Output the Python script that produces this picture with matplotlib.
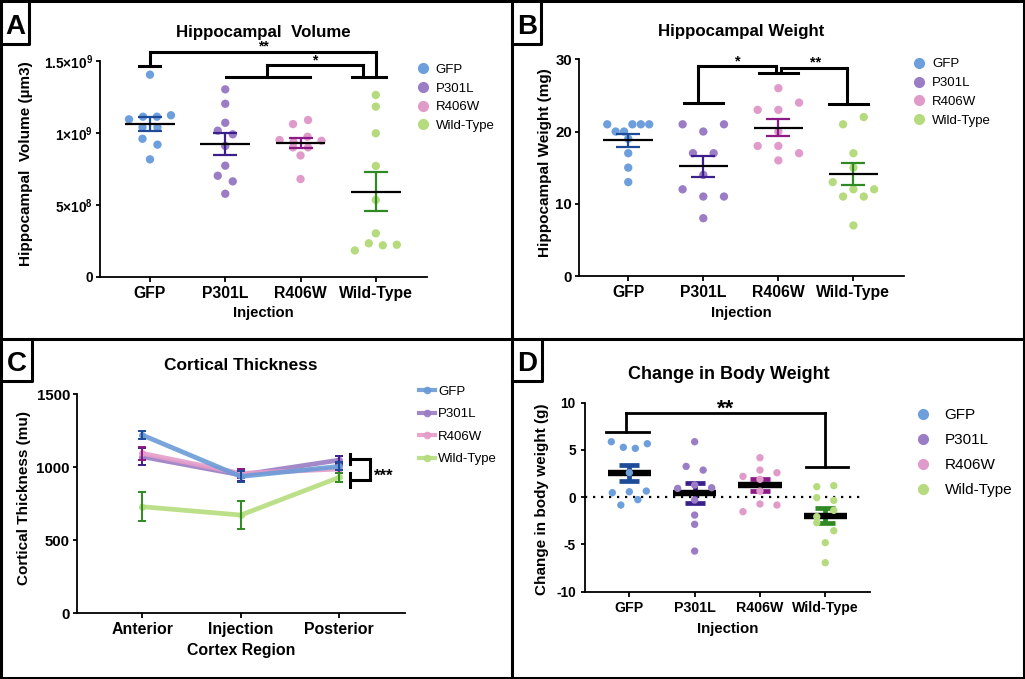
import numpy as np
import matplotlib
matplotlib.use('Agg')
import matplotlib.pyplot as plt
from matplotlib.lines import Line2D

plt.rcParams['font.family'] = ['Liberation Sans', 'DejaVu Sans']
plt.rcParams['mathtext.fontset'] = 'custom'
plt.rcParams['mathtext.rm'] = 'Liberation Sans:bold'
plt.rcParams['mathtext.bf'] = 'Liberation Sans:bold'
plt.rcParams['mathtext.default'] = 'rm'
plt.rcParams['axes.unicode_minus'] = False

W, H = 1025, 679

# ---------------- data ----------------
groups = ['GFP', 'P301L', 'R406W', 'Wild-Type']
point_colors = ['#6d9fdc', '#9b7dc6', '#e09bcb', '#b6db7f']
bar_colors = ['#1d4b98', '#3b1f8c', '#8a1a86', '#2f8a24']
line_colors = ['#6a9bd8', '#9a7cc4', '#e59cc9', '#b5dc7c']

# Panel A: hippocampal volume (x1e9 um^3)
vol_gfp = [1.403, 1.093, 1.111, 1.111, 1.121, 1.037, 1.037, 0.958, 0.917, 0.815]
vol_p301l = [1.301, 1.201, 1.069, 1.014, 0.989, 0.908, 0.771, 0.701, 0.662, 0.576]
vol_r406w = [1.060, 1.088, 0.949, 0.935, 0.972, 0.944, 0.898, 0.898, 0.842, 0.678]
vol_wt = [1.262, 1.181, 0.996, 0.769, 0.533, 0.301, 0.182, 0.232, 0.218, 0.222]

# Panel B: hippocampal weight (mg)
wt_gfp = [21, 20, 20, 21, 21, 21, 19, 17, 15, 13]
wt_p301l = [21, 20, 21, 17, 17, 14, 12, 11, 11, 8]
wt_r406w = [26, 23, 23, 24, 20, 18, 18, 17, 16]
wt_wt = [21, 22, 17, 15, 13, 12, 11, 11, 12, 7]

# Panel C: cortical thickness (mean, SEM)
regions = ['Anterior', 'Injection', 'Posterior']
ct_gfp = [1219, 936, 1005]
ct_gfp_err = [28, 35, 28]
ct_p301l = [1071, 946, 1048]
ct_p301l_err = [60, 40, 28]
ct_r406w = [1094, 957, 987]
ct_r406w_err = [45, 30, 25]
ct_wt = [729, 672, 930]
ct_wt_err = [100, 95, 32]

# Panel D: change in body weight (g)
bw_gfp = [5.87, 5.28, 5.17, 5.66, 2.59, 0.48, 0.58, 0.65, -0.83, -0.26]
bw_p301l = [5.87, 3.26, 2.87, 0.93, 1.29, 1.00, -0.30, -1.89, -2.87, -5.70]
bw_r406w = [4.18, 2.20, 2.87, 2.59, 1.89, 0.65, -1.53, -0.72, -0.83]
bw_wt = [1.11, 1.22, -0.05, -0.34, -2.06, -1.39, -2.70, -3.55, -4.81, -6.93]

# ---------------- helpers ----------------
fig = plt.figure(figsize=(W / 100, H / 100), dpi=100)


def fx(x):
    return x / W


def fy(y):
    return 1 - y / H


def add_axes_px(l, t, r, b):
    return fig.add_axes([fx(l), fy(b), (r - l) / W, (b - t) / H])


def fig_line(xs, ys, lw=2.0):
    fig.add_artist(Line2D([fx(v) for v in xs], [fy(v) for v in ys],
                          transform=fig.transFigure, color='black', lw=lw,
                          solid_capstyle='projecting'))


def swarm_offsets(vals, h, sp_max, width, px_per_unit):
    vals = np.asarray(vals, float)
    order = np.argsort(-vals, kind='stable')
    off = np.zeros(len(vals))
    bins, cur, start = [], [], None
    for i in order:
        if cur and start - vals[i] <= h + 1e-9:
            cur.append(i)
        else:
            if cur:
                bins.append(cur)
            cur = [i]
            start = vals[i]
    bins.append(cur)
    for b in bins:
        b = sorted(b)
        n = len(b)
        if n > 1:
            sp = min(sp_max, width / (n - 1))
            for k, i in enumerate(b):
                off[i] = (k - (n - 1) / 2) * sp / px_per_unit
    return off


def style_axes(ax, ytick_fs, xtick_fs):
    for s in ['top', 'right']:
        ax.spines[s].set_visible(False)
    for s in ['left', 'bottom']:
        ax.spines[s].set_linewidth(1.3)
    ax.tick_params(axis='x', length=3.6, width=1.3, labelsize=xtick_fs, pad=3)
    ax.tick_params(axis='y', length=2.9, width=1.3, labelsize=ytick_fs, pad=2)
    for lab in ax.get_xticklabels() + ax.get_yticklabels():
        lab.set_fontweight('bold')


def legend_at(ax, handles, labels, mx, tx, y0, dy, fs, hl=1.0):
    fs_px = fs * 100 / 72
    left = mx - hl * fs_px / 2
    htp = (tx - (mx + hl * fs_px / 2)) / fs_px
    rowh = 0.95 * fs_px
    ls = (dy - rowh) / fs_px
    top = y0 - rowh / 2
    ax.legend(handles, labels, loc='upper left',
              bbox_to_anchor=(fx(left), fy(top)), bbox_transform=fig.transFigure,
              frameon=False, borderpad=0, borderaxespad=0, handlelength=hl,
              handletextpad=htp, labelspacing=ls, fontsize=fs)


def bracket(ax, segs, lw):
    for (x0, y0, x1, y1) in segs:
        ax.plot([x0, x1], [y0, y1], color='black', lw=lw, clip_on=False,
                solid_capstyle='projecting', zorder=6)


def dot_handles(ms):
    return [Line2D([], [], ls='none', marker='o', ms=ms, mfc=c, mec=c) for c in point_colors]


# ---------------- frame ----------------
fig_line([1, 1024, 1024, 1, 1], [1, 1, 678, 678, 1], lw=2.2)
fig_line([512, 512], [0, 679], lw=2.2)
fig_line([0, 1025], [339, 339], lw=2.2)
for (l, t, r, b, letter) in [(0, 0, 29, 44, 'A'), (512, 0, 541, 44, 'B'),
                             (0, 339, 32, 381, 'C'), (512, 339, 542, 381, 'D')]:
    fig_line([l, r, r], [b, b, t], lw=2.2)
    fig.text(fx((l + r) / 2 + 0.5), fy(b - 10), letter, ha='center', va='baseline',
             fontsize=20, fontweight='bold')

# ---------------- Panel A ----------------
axA = add_axes_px(100, 60.7, 427, 276.7)
axA.set_xlim(-0.664, 3.68)
axA.set_ylim(0, 1.5e9)
dataA = [vol_gfp, vol_p301l, vol_r406w, vol_wt]
for i, d in enumerate(dataA):
    v = np.array(d) * 1e9
    off = swarm_offsets(d, 0.053, 15, 42, 75.3)
    axA.scatter(i + off, v, s=36, color=point_colors[i], edgecolors='none', zorder=2)
    m = v.mean()
    se = v.std(ddof=1) / np.sqrt(len(v))
    axA.errorbar(i, m, yerr=se, color=bar_colors[i], capsize=8.5, capthick=1.6,
                 elinewidth=1.6, zorder=3)
    axA.hlines(m, i - 0.33, i + 0.33, color='black', lw=1.6, zorder=4)
axA.set_xticks(range(4))
axA.set_xticklabels(groups)
axA.set_yticks([0, 5e8, 1e9, 1.5e9])
axA.set_yticklabels(['0', '5×10$^{8}$', '1×10$^{9}$', '1.5×10$^{9}$'])
style_axes(axA, 9.8, 11.3)
axA.set_xlabel('Injection', fontsize=10.7, fontweight='bold', labelpad=4)
axA.set_ylabel('Hippocampal  Volume (µm3)', fontsize=11, fontweight='bold', va='center')
axA.yaxis.set_label_coords((26 - 100) / 327, 0.522)
bracket(axA, [(0, 1.563e9, 3.0, 1.563e9), (0, 1.563e9, 0, 1.465e9),
              (-0.15, 1.465e9, 0.13, 1.465e9), (3.0, 1.563e9, 3.0, 1.385e9),
              (2.68, 1.385e9, 3.13, 1.385e9),
              (1.55, 1.470e9, 2.83, 1.470e9), (1.55, 1.470e9, 1.55, 1.385e9),
              (1.01, 1.385e9, 2.12, 1.385e9), (2.83, 1.470e9, 2.83, 1.385e9)], 2.2)
axA.text(1.50, 1.568e9, '**', ha='center', va='baseline', fontsize=10,
         fontweight='bold', clip_on=False)
axA.text(2.19, 1.475e9, '*', ha='center', va='baseline', fontsize=10,
         fontweight='bold', clip_on=False)
fig.text(fx(263), fy(37.3), 'Hippocampal  Volume', ha='center', va='baseline',
         fontsize=12.2, fontweight='bold')
legend_at(axA, dot_handles(7), groups, 423.3, 435.7, 70, 19, 9.5)

# ---------------- Panel B ----------------
axB = add_axes_px(578.7, 59.3, 903.7, 276)
axB.set_xlim(-0.66, 3.67)
axB.set_ylim(0, 30)
dataB = [wt_gfp, wt_p301l, wt_r406w, wt_wt]
for i, d in enumerate(dataB):
    v = np.array(d, float)
    off = swarm_offsets(d, 1.05, 20.7, 42, 75.1)
    axB.scatter(i + off, v, s=36, color=point_colors[i], edgecolors='none', zorder=2)
    m = v.mean()
    se = v.std(ddof=1) / np.sqrt(len(v))
    axB.errorbar(i, m, yerr=se, color=bar_colors[i], capsize=8.5, capthick=1.6,
                 elinewidth=1.6, zorder=3)
    axB.hlines(m, i - 0.33, i + 0.33, color='black', lw=1.6, zorder=4)
axB.set_xticks(range(4))
axB.set_xticklabels(groups)
axB.set_yticks([0, 10, 20, 30])
style_axes(axB, 10.8, 11.3)
axB.set_xlabel('Injection', fontsize=10.7, fontweight='bold', labelpad=4)
axB.set_ylabel('Hippocampal Weight (mg)', fontsize=11, fontweight='bold', va='center')
axB.yaxis.set_label_coords((545 - 578.7) / 325, 0.521)
bracket(axB, [(0.74, 24.0, 1.26, 24.0), (0.93, 24.0, 0.93, 29.08),
              (0.93, 29.08, 1.97, 29.08), (1.97, 29.08, 1.97, 28.07),
              (1.74, 28.07, 2.26, 28.07),
              (2.04, 28.07, 2.04, 28.85), (2.04, 28.85, 2.91, 28.85),
              (2.91, 28.85, 2.91, 23.8), (2.68, 23.8, 3.20, 23.8)], 2.2)
axB.text(1.46, 29.2, '*', ha='center', va='baseline', fontsize=10.5,
         fontweight='bold', clip_on=False)
axB.text(2.49, 29.0, '**', ha='center', va='baseline', fontsize=10.5,
         fontweight='bold', clip_on=False)
fig.text(fx(741.3), fy(35.7), 'Hippocampal Weight', ha='center', va='baseline',
         fontsize=12.2, fontweight='bold')
legend_at(axB, dot_handles(7), groups, 919.3, 932, 64.3, 19.2, 9.5)

# ---------------- Panel C ----------------
axC = add_axes_px(76.7, 394, 405, 613.3)
axC.set_xlim(-0.666, 2.667)
axC.set_ylim(0, 1500)
xc = np.arange(3)
seriesC = [(ct_p301l, ct_p301l_err, 1), (ct_r406w, ct_r406w_err, 2),
           (ct_gfp, ct_gfp_err, 0), (ct_wt, ct_wt_err, 3)]
for k, (vals, errs, gi) in enumerate(seriesC):
    axC.plot(xc, vals, color=line_colors[gi], lw=3.4, marker='o', ms=4,
             alpha=0.9, zorder=2 + k)
    axC.errorbar(xc, vals, yerr=errs, color=bar_colors[gi], fmt='none',
                 capsize=2.6, capthick=1.4, elinewidth=1.4, zorder=2.5 + k)
axC.set_xticks(xc)
axC.set_xticklabels(regions)
axC.set_yticks([0, 500, 1000, 1500])
style_axes(axC, 10.8, 11.4)
axC.set_xlabel('Cortex Region', fontsize=11.4, fontweight='bold', labelpad=4)
axC.set_ylabel('Cortical Thickness (mu)', fontsize=11, fontweight='bold', va='center')
axC.yaxis.set_label_coords((23.7 - 76.7) / 328.3, 0.526)
bracket(axC, [(2.11, 1088, 2.11, 1021), (2.11, 1057, 2.31, 1057),
              (2.31, 1057, 2.31, 912), (2.11, 912, 2.31, 912),
              (2.11, 957, 2.11, 862)], 2.2)
axC.text(2.35, 905, '***', ha='left', va='baseline', fontsize=12,
         fontweight='bold', clip_on=False)
fig.text(fx(241), fy(370), 'Cortical Thickness', ha='center', va='baseline',
         fontsize=12.4, fontweight='bold')
hC = [Line2D([], [], color=line_colors[i], lw=3, marker='o', ms=4.5, alpha=0.9)
      for i in range(4)]
legend_at(axC, hC, groups, 426.7, 438, 391.7, 22.9, 9.5, hl=1.2)

# ---------------- Panel D ----------------
axD = add_axes_px(585.3, 402.7, 869.7, 591.7)
axD.set_xlim(-0.674, 3.68)
axD.set_ylim(-10, 10)
dataD = [bw_gfp, bw_p301l, bw_r406w, bw_wt]
axD.plot([-0.674, 3.61], [0, 0], color='black', lw=1.6, ls=(0, (1, 2.6)),
         zorder=1, clip_on=False)
for i, d in enumerate(dataD):
    v = np.array(d, float)
    off = swarm_offsets(d, 0.85, 17, 36, 65.3)
    m = v.mean()
    se = v.std(ddof=1) / np.sqrt(len(v))
    axD.errorbar(i, m, yerr=se, color=bar_colors[i], capsize=7.5, capthick=3.4,
                 elinewidth=3.4, zorder=2)
    axD.hlines(m, i - 0.33, i + 0.33, color='black', lw=4.6, zorder=3)
    axD.scatter(i + off, v, s=28, color=point_colors[i], edgecolors='none', zorder=4)
axD.set_xticks(range(4))
axD.set_xticklabels(groups)
axD.set_yticks([-10, -5, 0, 5, 10])
style_axes(axD, 9.8, 10.2)
axD.tick_params(axis='y', pad=4)
axD.set_xlabel('Injection', fontsize=10.8, fontweight='bold', labelpad=5)
axD.set_ylabel('Change in body weight (g)', fontsize=11, fontweight='bold', va='center')
axD.yaxis.set_label_coords((541.7 - 585.3) / 284.4, 0.489)
bracket(axD, [(-0.35, 6.93, 0.30, 6.93), (-0.05, 6.93, -0.05, 8.94),
              (-0.05, 8.94, 3.0, 8.94), (3.0, 8.94, 3.0, 3.23),
              (2.70, 3.23, 3.35, 3.23)], 2.0)
axD.text(1.48, 8.75, '**', ha='center', va='baseline', fontsize=16,
         fontweight='bold', clip_on=False)
fig.text(fx(728.7), fy(379), 'Change in Body Weight', ha='center', va='baseline',
         fontsize=13, fontweight='bold')
legend_at(axD, dot_handles(7), groups, 923, 944.7, 415.7, 25.4, 11)

fig.savefig('out.png', dpi=100)
